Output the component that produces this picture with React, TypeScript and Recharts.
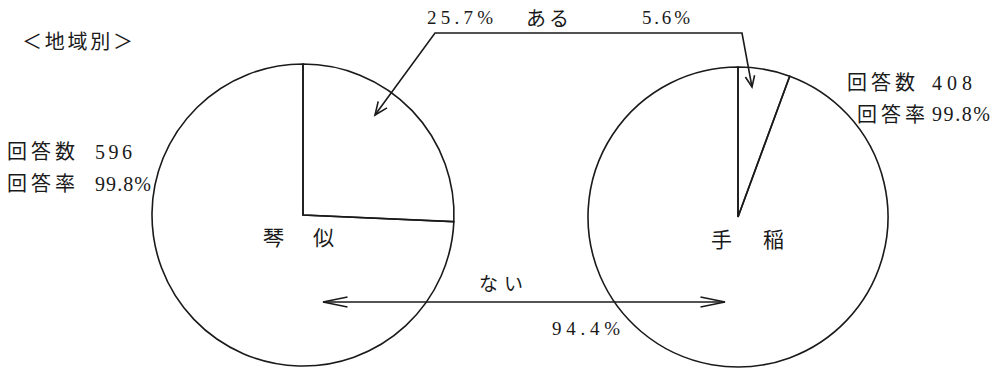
import React from "react";
import { PieChart, Pie, Cell, Customized } from "recharts";

const W = 1002;
const H = 368;

// Data
const regions = ["琴 似", "手 稲"];
const categories = ["ある", "ない"];
const kotoniValues = [25.7, 74.3];
const teineValues = [5.6, 94.4];
const responseCounts = ["596", "408"];
const responseRates = ["99.8%", "99.8%"];
const headerTitle = "＜地域別＞";
const aruLabels = ["25.7%", "5.6%"];
const naiLabel = "94.4%";

const kotoniData = categories.map((c, i) => ({ name: c, value: kotoniValues[i] }));
const teineData = categories.map((c, i) => ({ name: c, value: teineValues[i] }));

const SERIF = "'Liberation Serif', 'DejaVu Serif', serif";
const CJK = "'Noto Sans CJK JP', sans-serif";
const INK = "#1a1a1a";

function Head({ x, y, fx, fy, len = 12, spread = 0.35 }: { x: number; y: number; fx: number; fy: number; len?: number; spread?: number }) {
  const a = Math.atan2(y - fy, x - fx);
  const p1 = [x - len * Math.cos(a - spread), y - len * Math.sin(a - spread)];
  const p2 = [x - len * Math.cos(a + spread), y - len * Math.sin(a + spread)];
  return (
    <polyline
      points={`${p1[0]},${p1[1]} ${x},${y} ${p2[0]},${p2[1]}`}
      fill="none"
      stroke={INK}
      strokeWidth={1.6}
    />
  );
}

function T({ x, y, len, size = 17, children, font = SERIF }: { x: number; y: number; len?: number; size?: number; children: React.ReactNode; font?: string }) {
  return (
    <text
      x={x}
      y={y}
      fontSize={size}
      fontFamily={font}
      fill={INK}
      textLength={len}
      lengthAdjust={len ? "spacing" : undefined}
    >
      {children}
    </text>
  );
}

function Overlay() {
  return (
    <g>
      <T x={22} y={49} len={111} size={20} font={CJK}>{headerTitle}</T>

      <T x={7} y={159} len={68} size={20} font={CJK}>回答数</T>
      <T x={95} y={159} len={37} size={20}>{responseCounts[0]}</T>
      <T x={7} y={191} len={68} size={20} font={CJK}>回答率</T>
      <T x={95} y={191} len={56} size={20}>{responseRates[0]}</T>

      <T x={847} y={90} len={68} size={20} font={CJK}>回答数</T>
      <T x={932} y={90} len={40} size={20}>{responseCounts[1]}</T>
      <T x={857} y={122} len={68} size={20} font={CJK}>回答率</T>
      <T x={932} y={121} len={58} size={20}>{responseRates[1]}</T>

      <T x={427} y={24} len={66} size={19}>{aruLabels[0]}</T>
      <T x={526} y={26} len={43} size={20} font={CJK}>{categories[0]}</T>
      <T x={642} y={24} len={48} size={19}>{aruLabels[1]}</T>

      <T x={263} y={245} len={71} size={21} font={CJK}>{regions[0]}</T>
      <T x={711} y={247} len={73} size={21} font={CJK}>{regions[1]}</T>

      <T x={479} y={291} len={44} size={19} font={CJK}>{categories[1]}</T>
      <T x={552} y={335} len={68} size={19}>{naiLabel}</T>

      {/* top connector arrow */}
      <polyline points="375,115 435,33 742,33 752,87" fill="none" stroke={INK} strokeWidth={1.6} />
      <Head x={375} y={115} fx={435} fy={33} len={14} spread={0.4} />
      <Head x={752} y={87} fx={742} fy={33} len={12} spread={0.4} />

      {/* bottom double arrow */}
      <line x1={323} y1={302} x2={725} y2={302} stroke={INK} strokeWidth={1.6} />
      <Head x={323} y={302} fx={725} fy={302} len={25} spread={0.2} />
      <Head x={725} y={302} fx={323} fy={302} len={25} spread={0.2} />
    </g>
  );
}

export default function App() {
  return (
    <div style={{ position: "absolute", left: 0, top: 0, width: W, height: H, background: "#fff" }}>
      <PieChart width={W} height={H} margin={{ top: 0, right: 0, bottom: 0, left: 0 }}>
        <Pie
          data={kotoniData}
          dataKey="value"
          nameKey="name"
          cx={303}
          cy={215}
          outerRadius={151}
          innerRadius={0}
          startAngle={90}
          endAngle={-270}
          stroke={INK}
          strokeWidth={1.6}
          isAnimationActive={false}
        >
          {kotoniData.map((d, i) => (
            <Cell key={i} fill="#ffffff" fillOpacity={0} stroke={INK} />
          ))}
        </Pie>
        <Pie
          data={teineData}
          dataKey="value"
          nameKey="name"
          cx={738}
          cy={217}
          outerRadius={150}
          innerRadius={0}
          startAngle={90}
          endAngle={-270}
          stroke={INK}
          strokeWidth={1.6}
          isAnimationActive={false}
        >
          {teineData.map((d, i) => (
            <Cell key={i} fill="#ffffff" fillOpacity={0} stroke={INK} />
          ))}
        </Pie>
        <Customized component={<Overlay />} />
      </PieChart>
    </div>
  );
}
